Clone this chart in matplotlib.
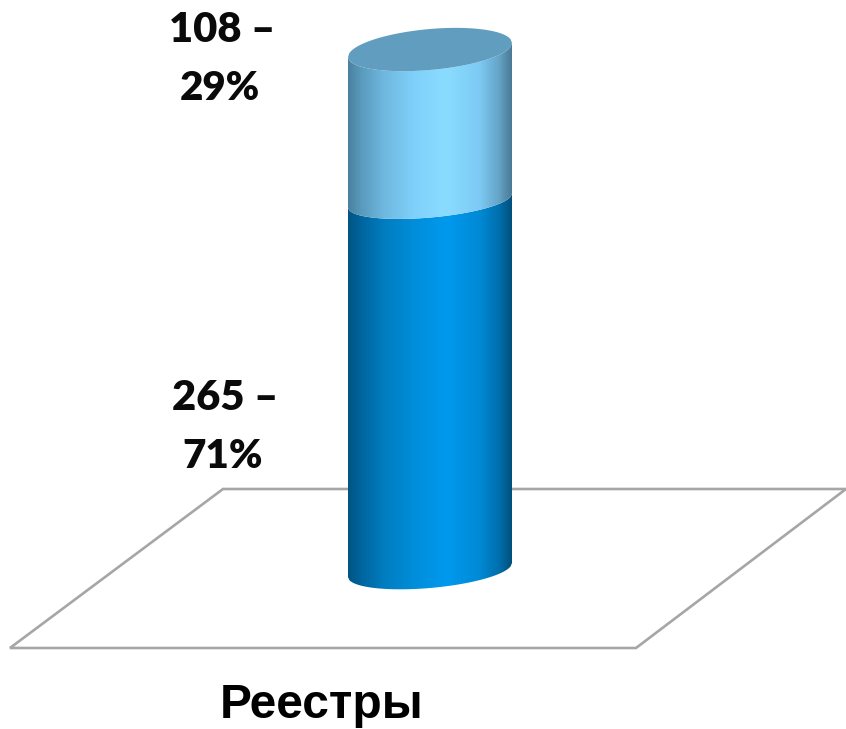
import numpy as np
from matplotlib import pyplot as plt
from matplotlib.colors import LinearSegmentedColormap
from matplotlib.patches import Polygon

category = 'Реестры'
counts = [265, 108]
percents = [71, 29]

W, H = 846, 729
BASE_PX, TOP_PX = 577, 57  # pixel row of value 0 and of the stack total at the cylinder's left edge
CX, HALF_W = 430, 82
TILT = 14 / 164

total = sum(counts)
px_per_unit = (BASE_PX - TOP_PX) / total


def px_y(row):
    # pixel row -> value axis
    return (BASE_PX - row) / px_per_unit


def rim(value, lower, b_px, n=120):
    # one half of the tilted ellipse at the level of value, left to right
    x = np.linspace(CX - HALF_W, CX + HALF_W, n)
    t = (x - CX) / HALF_W
    sign = -1 if lower else 1
    y = value + (x - (CX - HALF_W)) * TILT / px_per_unit + sign * b_px * np.sqrt(1 - t ** 2) / px_per_unit
    return np.column_stack([x, y])


def draw_segment(ax, bottom, top, colors, b_bottom, b_top):
    lower = rim(bottom, True, b_bottom)
    upper = rim(top, True, b_top)
    clip = Polygon(np.vstack([lower, upper[::-1]]), closed=True, transform=ax.transData, fc='none', ec='none')
    ax.add_patch(clip)
    cmap = LinearSegmentedColormap.from_list('side', colors)
    grad = np.linspace(0, 1, 256).reshape(1, -1)
    im = ax.imshow(grad, cmap=cmap, aspect='auto', interpolation='bilinear', zorder=3,
                   extent=[CX - HALF_W, CX + HALF_W, px_y(H), px_y(0)])
    im.set_clip_path(clip)


fig = plt.figure(figsize=(W / 100, H / 100), dpi=100)
ax = fig.add_axes([0, 0, 1, 1])

# floor
floor = [(10, 648), (223, 489), (846, 489), (636, 648)]
ax.add_patch(Polygon([(x, px_y(r)) for x, r in floor], closed=True, fc='white', ec='#a6a6a6', lw=1.9, zorder=1))

dark_side = [(0.0, '#005583'), (0.08, '#00659d'), (0.22, '#007dc0'), (0.42, '#008fdc'),
             (0.6, '#0099ee'), (0.8, '#008ad6'), (0.92, '#0070ae'), (1.0, '#00507c')]
light_side = [(0.0, '#4b819f'), (0.08, '#5a9abd'), (0.22, '#6fb8e0'), (0.42, '#80d2fc'),
              (0.6, '#8adcff'), (0.8, '#7dcbf5'), (0.92, '#65a5c8'), (1.0, '#4a7a95')]

draw_segment(ax, 0, counts[0], dark_side, 18, 17)
draw_segment(ax, counts[0], total, light_side, 17, 20)

# top cap
cap = np.vstack([rim(total, True, 20), rim(total, False, 21)[::-1]])
ax.add_patch(Polygon(cap, closed=True, fc='#619dbf', ec='none', zorder=4))

ax.set_xlim(0, W)
ax.set_ylim(px_y(H), px_y(0))
ax.axis('off')

# data labels
label_pos = [(225, 398), (222, 30)]
for n, p, (x, row) in zip(counts, percents, label_pos):
    fig.text(x / W, 1 - row / H, f'{n} –', ha='center', va='center', fontsize=30,
             fontweight='heavy', family='Lato', color='#0a0a0a')
    fig.text(x / W - 2 / W, 1 - (row + 59) / H, f'{p}%', ha='center', va='center', fontsize=29,
             fontweight='heavy', family='Lato', color='#0a0a0a')

fig.text(322 / W, 1 - 706 / H, category, ha='center', va='center', fontsize=34.5,
         fontweight='bold', family='Liberation Sans', color='black')

fig.savefig('out.png', dpi=100)
